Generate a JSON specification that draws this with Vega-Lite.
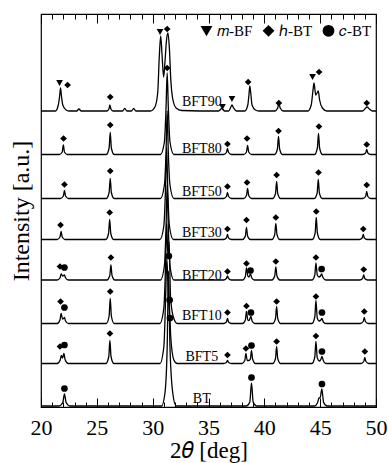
{
"$schema": "https://vega.github.io/schema/vega-lite/v6.json",
"width": 335, "height": 393,
"autosize": {"type": "none"},
"padding": {"left": 41, "top": 14, "right": 12, "bottom": 56},
"config": {"view": {"stroke": "black", "strokeWidth": 1.2}, "font": "Liberation Serif"},
"datasets": {
"lines": [
{"s":"BFT90","x":20,"y":296},{"s":"BFT90","x":21.3,"y":296},{"s":"BFT90","x":21.55,"y":302},{"s":"BFT90","x":21.68,"y":312},{"s":"BFT90","x":21.75,"y":319},{"s":"BFT90","x":21.82,"y":312},{"s":"BFT90","x":21.95,"y":302},{"s":"BFT90","x":22.25,"y":297},{"s":"BFT90","x":22.5,"y":296},{"s":"BFT90","x":23.2,"y":296},{"s":"BFT90","x":23.4,"y":298},{"s":"BFT90","x":23.6,"y":296},{"s":"BFT90","x":25.9,"y":296},{"s":"BFT90","x":26.08,"y":298},{"s":"BFT90","x":26.17,"y":302},{"s":"BFT90","x":26.26,"y":298},{"s":"BFT90","x":26.45,"y":296},{"s":"BFT90","x":27.3,"y":296},{"s":"BFT90","x":27.5,"y":298.5},{"s":"BFT90","x":27.7,"y":296},{"s":"BFT90","x":28.1,"y":296},{"s":"BFT90","x":28.3,"y":298.5},{"s":"BFT90","x":28.5,"y":296},{"s":"BFT90","x":29.8,"y":296},{"s":"BFT90","x":30.2,"y":300},{"s":"BFT90","x":30.45,"y":314},{"s":"BFT90","x":30.6,"y":352},{"s":"BFT90","x":30.72,"y":371},{"s":"BFT90","x":30.84,"y":352},{"s":"BFT90","x":30.98,"y":330},{"s":"BFT90","x":31.1,"y":345},{"s":"BFT90","x":31.25,"y":368},{"s":"BFT90","x":31.37,"y":374},{"s":"BFT90","x":31.5,"y":358},{"s":"BFT90","x":31.62,"y":328},{"s":"BFT90","x":31.8,"y":308},{"s":"BFT90","x":32.1,"y":299},{"s":"BFT90","x":32.6,"y":296.5},{"s":"BFT90","x":35.9,"y":296},{"s":"BFT90","x":36.2,"y":298.5},{"s":"BFT90","x":36.45,"y":296},{"s":"BFT90","x":36.8,"y":296},{"s":"BFT90","x":37.0,"y":300},{"s":"BFT90","x":37.1,"y":302},{"s":"BFT90","x":37.25,"y":299},{"s":"BFT90","x":37.5,"y":296},{"s":"BFT90","x":38.25,"y":296},{"s":"BFT90","x":38.52,"y":302},{"s":"BFT90","x":38.62,"y":312},{"s":"BFT90","x":38.7,"y":321},{"s":"BFT90","x":38.8,"y":312},{"s":"BFT90","x":38.9,"y":302},{"s":"BFT90","x":39.2,"y":297},{"s":"BFT90","x":39.5,"y":296},{"s":"BFT90","x":40.95,"y":296},{"s":"BFT90","x":41.2,"y":299},{"s":"BFT90","x":41.3,"y":304},{"s":"BFT90","x":41.42,"y":299},{"s":"BFT90","x":41.7,"y":296},{"s":"BFT90","x":43.9,"y":296},{"s":"BFT90","x":44.2,"y":302},{"s":"BFT90","x":44.35,"y":316},{"s":"BFT90","x":44.45,"y":324},{"s":"BFT90","x":44.6,"y":312},{"s":"BFT90","x":44.72,"y":314},{"s":"BFT90","x":44.83,"y":316},{"s":"BFT90","x":44.95,"y":307},{"s":"BFT90","x":45.2,"y":299},{"s":"BFT90","x":45.6,"y":296},{"s":"BFT90","x":48.8,"y":296},{"s":"BFT90","x":49.0,"y":298},{"s":"BFT90","x":49.2,"y":300},{"s":"BFT90","x":49.4,"y":298},{"s":"BFT90","x":49.7,"y":296},{"s":"BFT90","x":50,"y":296},
{"s":"BFT80","x":20,"y":252.5},{"s":"BFT80","x":21.65,"y":252.5},{"s":"BFT80","x":21.9,"y":255},{"s":"BFT80","x":22.0,"y":262},{"s":"BFT80","x":22.1,"y":255},{"s":"BFT80","x":22.35,"y":252.5},{"s":"BFT80","x":25.85,"y":252.5},{"s":"BFT80","x":26.1,"y":259},{"s":"BFT80","x":26.2,"y":274.5},{"s":"BFT80","x":26.3,"y":259},{"s":"BFT80","x":26.55,"y":252.5},{"s":"BFT80","x":30.7,"y":252.5},{"s":"BFT80","x":31.05,"y":265},{"s":"BFT80","x":31.2,"y":300},{"s":"BFT80","x":31.3,"y":334},{"s":"BFT80","x":31.4,"y":300},{"s":"BFT80","x":31.55,"y":265},{"s":"BFT80","x":31.9,"y":252.5},{"s":"BFT80","x":36.35,"y":252.5},{"s":"BFT80","x":36.6,"y":254.5},{"s":"BFT80","x":36.7,"y":258.5},{"s":"BFT80","x":36.8,"y":254.5},{"s":"BFT80","x":37.05,"y":252.5},{"s":"BFT80","x":38.15,"y":252.5},{"s":"BFT80","x":38.4,"y":255},{"s":"BFT80","x":38.5,"y":261.5},{"s":"BFT80","x":38.6,"y":255},{"s":"BFT80","x":38.85,"y":252.5},{"s":"BFT80","x":40.92,"y":252.5},{"s":"BFT80","x":41.17,"y":258},{"s":"BFT80","x":41.27,"y":270.5},{"s":"BFT80","x":41.37,"y":258},{"s":"BFT80","x":41.62,"y":252.5},{"s":"BFT80","x":44.5,"y":252.5},{"s":"BFT80","x":44.75,"y":259},{"s":"BFT80","x":44.85,"y":273.5},{"s":"BFT80","x":44.95,"y":259},{"s":"BFT80","x":45.2,"y":252.5},{"s":"BFT80","x":48.82,"y":252.5},{"s":"BFT80","x":49.07,"y":254},{"s":"BFT80","x":49.17,"y":257.5},{"s":"BFT80","x":49.27,"y":254},{"s":"BFT80","x":49.52,"y":252.5},{"s":"BFT80","x":50,"y":252.5},
{"s":"BFT50","x":20,"y":208.5},{"s":"BFT50","x":21.75,"y":208.5},{"s":"BFT50","x":22.0,"y":211},{"s":"BFT50","x":22.1,"y":216.5},{"s":"BFT50","x":22.2,"y":211},{"s":"BFT50","x":22.45,"y":208.5},{"s":"BFT50","x":25.85,"y":208.5},{"s":"BFT50","x":26.1,"y":214.5},{"s":"BFT50","x":26.2,"y":228.5},{"s":"BFT50","x":26.3,"y":214.5},{"s":"BFT50","x":26.55,"y":208.5},{"s":"BFT50","x":30.7,"y":208.5},{"s":"BFT50","x":31.05,"y":222},{"s":"BFT50","x":31.2,"y":255},{"s":"BFT50","x":31.3,"y":296},{"s":"BFT50","x":31.4,"y":255},{"s":"BFT50","x":31.55,"y":222},{"s":"BFT50","x":31.9,"y":208.5},{"s":"BFT50","x":36.35,"y":208.5},{"s":"BFT50","x":36.6,"y":210.5},{"s":"BFT50","x":36.7,"y":214.5},{"s":"BFT50","x":36.8,"y":210.5},{"s":"BFT50","x":37.05,"y":208.5},{"s":"BFT50","x":38.15,"y":208.5},{"s":"BFT50","x":38.4,"y":211.5},{"s":"BFT50","x":38.5,"y":218.5},{"s":"BFT50","x":38.6,"y":211.5},{"s":"BFT50","x":38.85,"y":208.5},{"s":"BFT50","x":40.75,"y":208.5},{"s":"BFT50","x":41.0,"y":213.5},{"s":"BFT50","x":41.1,"y":225.5},{"s":"BFT50","x":41.2,"y":213.5},{"s":"BFT50","x":41.45,"y":208.5},{"s":"BFT50","x":44.48,"y":208.5},{"s":"BFT50","x":44.73,"y":214},{"s":"BFT50","x":44.83,"y":227.5},{"s":"BFT50","x":44.93,"y":214},{"s":"BFT50","x":45.18,"y":208.5},{"s":"BFT50","x":48.82,"y":208.5},{"s":"BFT50","x":49.07,"y":210.5},{"s":"BFT50","x":49.17,"y":215.5},{"s":"BFT50","x":49.27,"y":210.5},{"s":"BFT50","x":49.52,"y":208.5},{"s":"BFT50","x":50,"y":208.5},
{"s":"BFT30","x":20,"y":167.5},{"s":"BFT30","x":21.45,"y":167.5},{"s":"BFT30","x":21.7,"y":170},{"s":"BFT30","x":21.8,"y":175.5},{"s":"BFT30","x":21.9,"y":170},{"s":"BFT30","x":22.15,"y":167.5},{"s":"BFT30","x":25.8,"y":167.5},{"s":"BFT30","x":26.05,"y":173.5},{"s":"BFT30","x":26.15,"y":187.5},{"s":"BFT30","x":26.25,"y":173.5},{"s":"BFT30","x":26.5,"y":167.5},{"s":"BFT30","x":30.65,"y":167.5},{"s":"BFT30","x":31.0,"y":181},{"s":"BFT30","x":31.15,"y":218},{"s":"BFT30","x":31.25,"y":259.5},{"s":"BFT30","x":31.35,"y":218},{"s":"BFT30","x":31.5,"y":181},{"s":"BFT30","x":31.85,"y":167.5},{"s":"BFT30","x":36.35,"y":167.5},{"s":"BFT30","x":36.6,"y":169},{"s":"BFT30","x":36.7,"y":172.5},{"s":"BFT30","x":36.8,"y":169},{"s":"BFT30","x":37.05,"y":167.5},{"s":"BFT30","x":38.05,"y":167.5},{"s":"BFT30","x":38.3,"y":171},{"s":"BFT30","x":38.4,"y":179.5},{"s":"BFT30","x":38.5,"y":171},{"s":"BFT30","x":38.75,"y":167.5},{"s":"BFT30","x":40.68,"y":167.5},{"s":"BFT30","x":40.93,"y":172.5},{"s":"BFT30","x":41.03,"y":183.5},{"s":"BFT30","x":41.13,"y":172.5},{"s":"BFT30","x":41.38,"y":167.5},{"s":"BFT30","x":44.3,"y":167.5},{"s":"BFT30","x":44.55,"y":174},{"s":"BFT30","x":44.65,"y":189.5},{"s":"BFT30","x":44.75,"y":174},{"s":"BFT30","x":45.0,"y":167.5},{"s":"BFT30","x":48.51,"y":167.5},{"s":"BFT30","x":48.76,"y":169},{"s":"BFT30","x":48.86,"y":172.5},{"s":"BFT30","x":48.96,"y":169},{"s":"BFT30","x":49.21,"y":167.5},{"s":"BFT30","x":50,"y":167.5},
{"s":"BFT20","x":20,"y":127},{"s":"BFT20","x":21.45,"y":127},{"s":"BFT20","x":21.7,"y":129},{"s":"BFT20","x":21.8,"y":133},{"s":"BFT20","x":21.95,"y":131},{"s":"BFT20","x":22.1,"y":132},{"s":"BFT20","x":22.2,"y":129},{"s":"BFT20","x":22.45,"y":127},{"s":"BFT20","x":25.9,"y":127},{"s":"BFT20","x":26.16,"y":131.5},{"s":"BFT20","x":26.26,"y":142},{"s":"BFT20","x":26.36,"y":131.5},{"s":"BFT20","x":26.61,"y":127},{"s":"BFT20","x":30.7,"y":127},{"s":"BFT20","x":31.05,"y":141},{"s":"BFT20","x":31.2,"y":180},{"s":"BFT20","x":31.3,"y":222},{"s":"BFT20","x":31.4,"y":180},{"s":"BFT20","x":31.55,"y":141},{"s":"BFT20","x":31.9,"y":127},{"s":"BFT20","x":36.35,"y":127},{"s":"BFT20","x":36.6,"y":128.5},{"s":"BFT20","x":36.7,"y":131},{"s":"BFT20","x":36.8,"y":128.5},{"s":"BFT20","x":37.05,"y":127},{"s":"BFT20","x":38.05,"y":127},{"s":"BFT20","x":38.3,"y":130.5},{"s":"BFT20","x":38.4,"y":139},{"s":"BFT20","x":38.52,"y":131},{"s":"BFT20","x":38.62,"y":130},{"s":"BFT20","x":38.76,"y":133},{"s":"BFT20","x":38.88,"y":129},{"s":"BFT20","x":39.1,"y":127},{"s":"BFT20","x":40.68,"y":127},{"s":"BFT20","x":40.93,"y":131},{"s":"BFT20","x":41.03,"y":140},{"s":"BFT20","x":41.13,"y":131},{"s":"BFT20","x":41.38,"y":127},{"s":"BFT20","x":44.27,"y":127},{"s":"BFT20","x":44.52,"y":132},{"s":"BFT20","x":44.62,"y":144},{"s":"BFT20","x":44.74,"y":132},{"s":"BFT20","x":44.9,"y":130},{"s":"BFT20","x":45.03,"y":131},{"s":"BFT20","x":45.13,"y":133},{"s":"BFT20","x":45.25,"y":129.5},{"s":"BFT20","x":45.5,"y":127},{"s":"BFT20","x":48.55,"y":127},{"s":"BFT20","x":48.8,"y":128.5},{"s":"BFT20","x":48.9,"y":132},{"s":"BFT20","x":49.0,"y":128.5},{"s":"BFT20","x":49.25,"y":127},{"s":"BFT20","x":50,"y":127},
{"s":"BFT10","x":20,"y":83.5},{"s":"BFT10","x":21.45,"y":83.5},{"s":"BFT10","x":21.7,"y":87},{"s":"BFT10","x":21.8,"y":93.5},{"s":"BFT10","x":21.93,"y":88},{"s":"BFT10","x":22.02,"y":88.5},{"s":"BFT10","x":22.1,"y":89.5},{"s":"BFT10","x":22.2,"y":86},{"s":"BFT10","x":22.45,"y":83.5},{"s":"BFT10","x":25.85,"y":83.5},{"s":"BFT10","x":26.1,"y":91},{"s":"BFT10","x":26.2,"y":108.5},{"s":"BFT10","x":26.3,"y":91},{"s":"BFT10","x":26.55,"y":83.5},{"s":"BFT10","x":30.65,"y":83.5},{"s":"BFT10","x":31.0,"y":99},{"s":"BFT10","x":31.15,"y":140},{"s":"BFT10","x":31.25,"y":183.5},{"s":"BFT10","x":31.37,"y":150},{"s":"BFT10","x":31.47,"y":165},{"s":"BFT10","x":31.6,"y":110},{"s":"BFT10","x":31.85,"y":90},{"s":"BFT10","x":32.2,"y":83.5},{"s":"BFT10","x":36.35,"y":83.5},{"s":"BFT10","x":36.6,"y":85},{"s":"BFT10","x":36.7,"y":88.5},{"s":"BFT10","x":36.8,"y":85},{"s":"BFT10","x":37.05,"y":83.5},{"s":"BFT10","x":38.05,"y":83.5},{"s":"BFT10","x":38.3,"y":87},{"s":"BFT10","x":38.4,"y":95.5},{"s":"BFT10","x":38.52,"y":87},{"s":"BFT10","x":38.63,"y":86.5},{"s":"BFT10","x":38.8,"y":90.5},{"s":"BFT10","x":38.92,"y":85.5},{"s":"BFT10","x":39.15,"y":83.5},{"s":"BFT10","x":40.75,"y":83.5},{"s":"BFT10","x":41.0,"y":88.5},{"s":"BFT10","x":41.1,"y":100.5},{"s":"BFT10","x":41.2,"y":88.5},{"s":"BFT10","x":41.45,"y":83.5},{"s":"BFT10","x":44.27,"y":83.5},{"s":"BFT10","x":44.52,"y":90},{"s":"BFT10","x":44.62,"y":106.5},{"s":"BFT10","x":44.74,"y":89},{"s":"BFT10","x":44.92,"y":86},{"s":"BFT10","x":45.06,"y":87},{"s":"BFT10","x":45.16,"y":88.5},{"s":"BFT10","x":45.28,"y":85},{"s":"BFT10","x":45.5,"y":83.5},{"s":"BFT10","x":48.6,"y":83.5},{"s":"BFT10","x":48.85,"y":85.5},{"s":"BFT10","x":48.95,"y":89.5},{"s":"BFT10","x":49.05,"y":85.5},{"s":"BFT10","x":49.3,"y":83.5},{"s":"BFT10","x":50,"y":83.5},
{"s":"BFT5","x":20,"y":43.5},{"s":"BFT5","x":21.45,"y":43.5},{"s":"BFT5","x":21.72,"y":47},{"s":"BFT5","x":21.82,"y":51.5},{"s":"BFT5","x":21.93,"y":49},{"s":"BFT5","x":22.05,"y":53.5},{"s":"BFT5","x":22.17,"y":47},{"s":"BFT5","x":22.45,"y":43.5},{"s":"BFT5","x":25.82,"y":43.5},{"s":"BFT5","x":26.07,"y":50.5},{"s":"BFT5","x":26.17,"y":66.5},{"s":"BFT5","x":26.27,"y":50.5},{"s":"BFT5","x":26.52,"y":43.5},{"s":"BFT5","x":30.65,"y":43.5},{"s":"BFT5","x":31.0,"y":60},{"s":"BFT5","x":31.15,"y":105},{"s":"BFT5","x":31.27,"y":148.5},{"s":"BFT5","x":31.4,"y":112},{"s":"BFT5","x":31.5,"y":100},{"s":"BFT5","x":31.62,"y":70},{"s":"BFT5","x":31.9,"y":47},{"s":"BFT5","x":32.2,"y":43.5},{"s":"BFT5","x":36.35,"y":43.5},{"s":"BFT5","x":36.6,"y":44.5},{"s":"BFT5","x":36.7,"y":46.5},{"s":"BFT5","x":36.8,"y":44.5},{"s":"BFT5","x":37.05,"y":43.5},{"s":"BFT5","x":38.0,"y":43.5},{"s":"BFT5","x":38.25,"y":46.5},{"s":"BFT5","x":38.35,"y":53.5},{"s":"BFT5","x":38.47,"y":46.5},{"s":"BFT5","x":38.62,"y":46.5},{"s":"BFT5","x":38.75,"y":48},{"s":"BFT5","x":38.85,"y":56.5},{"s":"BFT5","x":38.95,"y":48},{"s":"BFT5","x":39.2,"y":43.5},{"s":"BFT5","x":40.75,"y":43.5},{"s":"BFT5","x":41.0,"y":48.5},{"s":"BFT5","x":41.1,"y":60.5},{"s":"BFT5","x":41.2,"y":48.5},{"s":"BFT5","x":41.45,"y":43.5},{"s":"BFT5","x":44.27,"y":43.5},{"s":"BFT5","x":44.52,"y":50},{"s":"BFT5","x":44.62,"y":65.5},{"s":"BFT5","x":44.74,"y":49},{"s":"BFT5","x":44.95,"y":46},{"s":"BFT5","x":45.06,"y":47.5},{"s":"BFT5","x":45.16,"y":50.5},{"s":"BFT5","x":45.28,"y":46.5},{"s":"BFT5","x":45.5,"y":43.5},{"s":"BFT5","x":48.65,"y":43.5},{"s":"BFT5","x":48.9,"y":45.5},{"s":"BFT5","x":49.0,"y":49.5},{"s":"BFT5","x":49.1,"y":45.5},{"s":"BFT5","x":49.35,"y":43.5},{"s":"BFT5","x":50,"y":43.5},
{"s":"BT","x":20,"y":1},{"s":"BT","x":21.6,"y":1},{"s":"BT","x":21.95,"y":4.5},{"s":"BT","x":22.1,"y":13},{"s":"BT","x":22.25,"y":4.5},{"s":"BT","x":22.6,"y":1},{"s":"BT","x":30.8,"y":1},{"s":"BT","x":31.1,"y":14},{"s":"BT","x":31.3,"y":60},{"s":"BT","x":31.42,"y":136},{"s":"BT","x":31.55,"y":60},{"s":"BT","x":31.8,"y":14},{"s":"BT","x":32.1,"y":1},{"s":"BT","x":38.4,"y":1},{"s":"BT","x":38.7,"y":5},{"s":"BT","x":38.85,"y":24},{"s":"BT","x":39.0,"y":5},{"s":"BT","x":39.3,"y":1},{"s":"BT","x":44.5,"y":1},{"s":"BT","x":44.75,"y":4},{"s":"BT","x":44.9,"y":9},{"s":"BT","x":45.0,"y":9.5},{"s":"BT","x":45.15,"y":18},{"s":"BT","x":45.3,"y":5},{"s":"BT","x":45.6,"y":1},{"s":"BT","x":50,"y":1}
],
"marks": [
{"x":21.66,"y":324,"p":"m-BF"},{"x":22.38,"y":322,"p":"h-BT"},{"x":26.2,"y":310,"p":"h-BT"},{"x":30.66,"y":375,"p":"m-BF"},{"x":31.3,"y":378,"p":"h-BT"},{"x":36.25,"y":300,"p":"m-BF"},{"x":37.1,"y":308,"p":"m-BF"},{"x":38.55,"y":325,"p":"h-BT"},{"x":41.3,"y":304,"p":"h-BT"},{"x":44.32,"y":330,"p":"m-BF"},{"x":44.9,"y":335,"p":"h-BT"},{"x":49.17,"y":304,"p":"h-BT"},
{"x":22.02,"y":268.5,"p":"h-BT"},{"x":26.2,"y":282,"p":"h-BT"},{"x":31.3,"y":339,"p":"h-BT"},{"x":36.7,"y":263,"p":"h-BT"},{"x":38.45,"y":268.5,"p":"h-BT"},{"x":41.27,"y":276,"p":"h-BT"},{"x":44.89,"y":280.5,"p":"h-BT"},{"x":49.17,"y":262.5,"p":"h-BT"},
{"x":22.1,"y":222.5,"p":"h-BT"},{"x":26.2,"y":236,"p":"h-BT"},{"x":36.7,"y":220.5,"p":"h-BT"},{"x":38.45,"y":224.5,"p":"h-BT"},{"x":41.1,"y":232,"p":"h-BT"},{"x":44.85,"y":234.5,"p":"h-BT"},{"x":49.17,"y":222,"p":"h-BT"},
{"x":21.75,"y":182,"p":"h-BT"},{"x":26.15,"y":194.5,"p":"h-BT"},{"x":36.7,"y":178,"p":"h-BT"},{"x":38.4,"y":187,"p":"h-BT"},{"x":41.03,"y":189.5,"p":"h-BT"},{"x":44.65,"y":195.5,"p":"h-BT"},{"x":48.86,"y":178,"p":"h-BT"},
{"x":21.7,"y":140.5,"p":"h-BT"},{"x":22.1,"y":139.5,"p":"c-BT"},{"x":26.26,"y":149.5,"p":"h-BT"},{"x":31.45,"y":151,"p":"c-BT"},{"x":36.7,"y":135.5,"p":"h-BT"},{"x":38.4,"y":143.5,"p":"h-BT"},{"x":38.76,"y":136.5,"p":"c-BT"},{"x":41.03,"y":145.5,"p":"h-BT"},{"x":44.62,"y":149.5,"p":"h-BT"},{"x":45.13,"y":138,"p":"c-BT"},{"x":48.9,"y":137.5,"p":"h-BT"},
{"x":21.75,"y":105.5,"p":"h-BT"},{"x":22.1,"y":99.5,"p":"c-BT"},{"x":26.2,"y":115.5,"p":"h-BT"},{"x":31.52,"y":107,"p":"c-BT"},{"x":36.7,"y":94.5,"p":"h-BT"},{"x":38.4,"y":101,"p":"h-BT"},{"x":38.8,"y":94.5,"p":"c-BT"},{"x":41.1,"y":105.5,"p":"h-BT"},{"x":44.62,"y":110.5,"p":"h-BT"},{"x":45.16,"y":94.5,"p":"c-BT"},{"x":48.95,"y":95.5,"p":"h-BT"},
{"x":21.7,"y":60.5,"p":"h-BT"},{"x":22.1,"y":62,"p":"c-BT"},{"x":26.17,"y":73.5,"p":"h-BT"},{"x":31.55,"y":89,"p":"c-BT"},{"x":36.7,"y":52,"p":"h-BT"},{"x":38.35,"y":58.5,"p":"h-BT"},{"x":38.85,"y":61.5,"p":"c-BT"},{"x":41.1,"y":65.5,"p":"h-BT"},{"x":44.62,"y":71,"p":"h-BT"},{"x":45.16,"y":55.5,"p":"c-BT"},{"x":49.0,"y":55.5,"p":"h-BT"},
{"x":22.1,"y":18.5,"p":"c-BT"},{"x":38.85,"y":29.5,"p":"c-BT"},{"x":45.16,"y":23,"p":"c-BT"}
],
"labels": [
{"x":34.4,"y":305,"t":"BFT90"},{"x":34.4,"y":258,"t":"BFT80"},{"x":34.4,"y":215,"t":"BFT50"},{"x":34.4,"y":174,"t":"BFT30"},{"x":34.4,"y":131,"t":"BFT20"},{"x":34.4,"y":91,"t":"BFT10"},{"x":34.4,"y":50,"t":"BFT5"},{"x":34.4,"y":8,"t":"BT"}
]
},
"layer": [
{"data": {"name": "lines"},
 "mark": {"type": "line", "interpolate": "monotone", "color": "black", "strokeWidth": 1.3},
 "encoding": {
  "x": {"field": "x", "type": "quantitative", "scale": {"domain": [20, 50], "nice": false, "zero": false},
        "axis": {"orient": "bottom", "values": [20,25,30,35,40,45,50], "tickSize": -9, "tickColor": "black", "tickWidth": 1, "domain": false, "grid": false,
                 "labelFont": "Liberation Serif", "labelFontSize": 22, "labelColor": "black", "labelPadding": 19, "labelFlush": false,
                 "title": "2𝜃 [deg]", "titleFont": "Liberation Serif", "titleFontSize": 23, "titleFontWeight": "normal", "titleColor": "black", "titlePadding": 1}},
  "y": {"field": "y", "type": "quantitative", "scale": {"domain": [0, 393], "nice": false, "zero": false},
        "axis": {"title": "Intensity [a.u.]", "ticks": false, "labels": false, "domain": false, "grid": false,
                 "titleFont": "Liberation Serif", "titleFontSize": 24, "titleFontWeight": "normal", "titleColor": "black", "titlePadding": 8}},
  "detail": {"field": "s"}
 }},
{"data": {"name": "marks"},
 "transform": [{"filter": "datum.p == 'h-BT'"}],
 "mark": {"type": "point", "filled": true, "color": "black", "opacity": 1, "size": 45},
 "encoding": {
  "x": {"field": "x", "type": "quantitative", "scale": {"domain": [20, 50], "nice": false, "zero": false},
        "axis": {"orient": "bottom", "values": [21,22,23,24,26,27,28,29,31,32,33,34,36,37,38,39,41,42,43,44,46,47,48,49], "tickSize": -5, "tickColor": "black", "tickWidth": 1, "labels": false, "domain": false, "grid": false, "title": null}},
  "y": {"field": "y", "type": "quantitative"},
  "shape": {"field": "p", "type": "nominal",
            "scale": {"domain": ["m-BF", "h-BT", "c-BT"], "range": ["triangle-down", "diamond", "circle"]},
            "legend": {"orient": "none", "legendX": 158, "legendY": 9, "direction": "horizontal", "title": null,
                       "labelExpr": "datum.label == 'm-BF' ? '𝑚-BF' : datum.label == 'h-BT' ? 'ℎ-BT' : '𝑐-BT'",
                       "labelFont": "Liberation Serif", "labelFontSize": 15, "labelColor": "black", "symbolSize": 140,
                       "symbolFillColor": "black", "symbolStrokeColor": "black", "symbolOpacity": 1, "labelOffset": 3, "columnPadding": 6}}
 }},
{"data": {"name": "marks"},
 "transform": [{"filter": "datum.p != 'h-BT'"}],
 "mark": {"type": "point", "filled": true, "color": "black", "opacity": 1, "size": 45},
 "encoding": {
  "x": {"field": "x", "type": "quantitative", "scale": {"domain": [20, 50], "nice": false, "zero": false},
        "axis": {"orient": "top", "values": [20,25,30,35,40,45,50], "tickSize": -9, "tickColor": "black", "tickWidth": 1, "labels": false, "domain": false, "grid": false, "title": null}},
  "y": {"field": "y", "type": "quantitative"},
  "shape": {"field": "p", "type": "nominal"}
 }},
{"data": {"name": "labels"},
 "mark": {"type": "text", "font": "Liberation Serif", "fontSize": 14, "align": "center", "baseline": "middle", "color": "black"},
 "encoding": {
  "x": {"field": "x", "type": "quantitative", "scale": {"domain": [20, 50], "nice": false, "zero": false},
        "axis": {"orient": "top", "values": [21,22,23,24,26,27,28,29,31,32,33,34,36,37,38,39,41,42,43,44,46,47,48,49], "tickSize": -5, "tickColor": "black", "tickWidth": 1, "labels": false, "domain": false, "grid": false, "title": null}},
  "y": {"field": "y", "type": "quantitative"},
  "text": {"field": "t"}
 }}
],
"resolve": {"axis": {"x": "independent"}}
}
